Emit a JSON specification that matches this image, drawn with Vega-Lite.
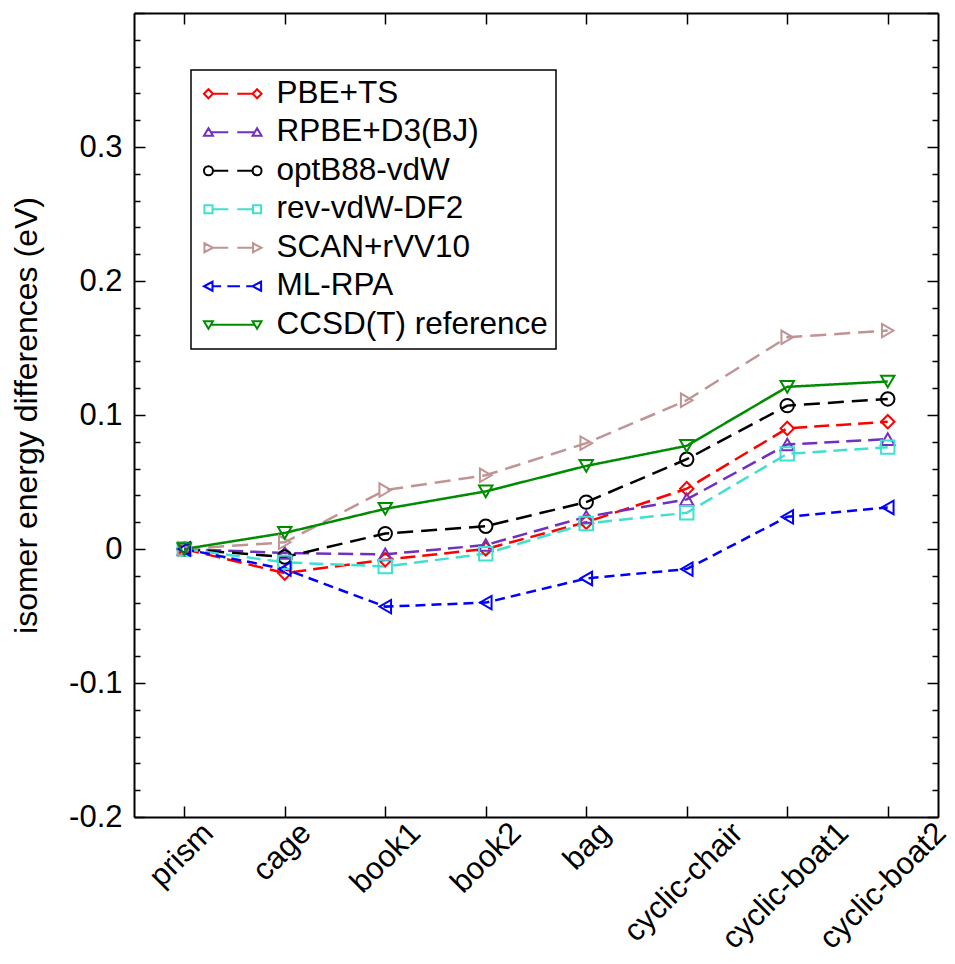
{
  "$schema": "https://vega.github.io/schema/vega-lite/v6.json",
  "width": 804,
  "height": 804,
  "autosize": {"type": "none"},
  "padding": {"left": 134, "top": 13, "right": 17, "bottom": 147},
  "background": "white",
  "config": {
    "view": {"stroke": null},
    "font": "Liberation Sans",
    "legend": {"strokeWidth": 1.5}
  },
  "datasets": {
    "d": [
      {"m": "PBE+TS", "isomer": "prism", "i": 0, "e": 0},
      {"m": "PBE+TS", "isomer": "cage", "i": 1, "e": -0.018},
      {"m": "PBE+TS", "isomer": "book1", "i": 2, "e": -0.008},
      {"m": "PBE+TS", "isomer": "book2", "i": 3, "e": 0.0},
      {"m": "PBE+TS", "isomer": "bag", "i": 4, "e": 0.020},
      {"m": "PBE+TS", "isomer": "cyclic-chair", "i": 5, "e": 0.045},
      {"m": "PBE+TS", "isomer": "cyclic-boat1", "i": 6, "e": 0.090},
      {"m": "PBE+TS", "isomer": "cyclic-boat2", "i": 7, "e": 0.095},
      {"m": "RPBE+D3(BJ)", "isomer": "prism", "i": 0, "e": 0},
      {"m": "RPBE+D3(BJ)", "isomer": "cage", "i": 1, "e": -0.003},
      {"m": "RPBE+D3(BJ)", "isomer": "book1", "i": 2, "e": -0.004},
      {"m": "RPBE+D3(BJ)", "isomer": "book2", "i": 3, "e": 0.003},
      {"m": "RPBE+D3(BJ)", "isomer": "bag", "i": 4, "e": 0.024},
      {"m": "RPBE+D3(BJ)", "isomer": "cyclic-chair", "i": 5, "e": 0.037},
      {"m": "RPBE+D3(BJ)", "isomer": "cyclic-boat1", "i": 6, "e": 0.078},
      {"m": "RPBE+D3(BJ)", "isomer": "cyclic-boat2", "i": 7, "e": 0.082},
      {"m": "optB88-vdW", "isomer": "prism", "i": 0, "e": 0},
      {"m": "optB88-vdW", "isomer": "cage", "i": 1, "e": -0.006},
      {"m": "optB88-vdW", "isomer": "book1", "i": 2, "e": 0.0115},
      {"m": "optB88-vdW", "isomer": "book2", "i": 3, "e": 0.017},
      {"m": "optB88-vdW", "isomer": "bag", "i": 4, "e": 0.035},
      {"m": "optB88-vdW", "isomer": "cyclic-chair", "i": 5, "e": 0.067},
      {"m": "optB88-vdW", "isomer": "cyclic-boat1", "i": 6, "e": 0.107},
      {"m": "optB88-vdW", "isomer": "cyclic-boat2", "i": 7, "e": 0.112},
      {"m": "rev-vdW-DF2", "isomer": "prism", "i": 0, "e": 0},
      {"m": "rev-vdW-DF2", "isomer": "cage", "i": 1, "e": -0.010},
      {"m": "rev-vdW-DF2", "isomer": "book1", "i": 2, "e": -0.013},
      {"m": "rev-vdW-DF2", "isomer": "book2", "i": 3, "e": -0.0035},
      {"m": "rev-vdW-DF2", "isomer": "bag", "i": 4, "e": 0.019},
      {"m": "rev-vdW-DF2", "isomer": "cyclic-chair", "i": 5, "e": 0.027},
      {"m": "rev-vdW-DF2", "isomer": "cyclic-boat1", "i": 6, "e": 0.071},
      {"m": "rev-vdW-DF2", "isomer": "cyclic-boat2", "i": 7, "e": 0.076},
      {"m": "SCAN+rVV10", "isomer": "prism", "i": 0, "e": 0},
      {"m": "SCAN+rVV10", "isomer": "cage", "i": 1, "e": 0.005},
      {"m": "SCAN+rVV10", "isomer": "book1", "i": 2, "e": 0.044},
      {"m": "SCAN+rVV10", "isomer": "book2", "i": 3, "e": 0.055},
      {"m": "SCAN+rVV10", "isomer": "bag", "i": 4, "e": 0.079},
      {"m": "SCAN+rVV10", "isomer": "cyclic-chair", "i": 5, "e": 0.111},
      {"m": "SCAN+rVV10", "isomer": "cyclic-boat1", "i": 6, "e": 0.158},
      {"m": "SCAN+rVV10", "isomer": "cyclic-boat2", "i": 7, "e": 0.163},
      {"m": "ML-RPA", "isomer": "prism", "i": 0, "e": 0},
      {"m": "ML-RPA", "isomer": "cage", "i": 1, "e": -0.015},
      {"m": "ML-RPA", "isomer": "book1", "i": 2, "e": -0.043},
      {"m": "ML-RPA", "isomer": "book2", "i": 3, "e": -0.040},
      {"m": "ML-RPA", "isomer": "bag", "i": 4, "e": -0.022},
      {"m": "ML-RPA", "isomer": "cyclic-chair", "i": 5, "e": -0.015},
      {"m": "ML-RPA", "isomer": "cyclic-boat1", "i": 6, "e": 0.024},
      {"m": "ML-RPA", "isomer": "cyclic-boat2", "i": 7, "e": 0.031},
      {"m": "CCSD(T) reference", "isomer": "prism", "i": 0, "e": 0},
      {"m": "CCSD(T) reference", "isomer": "cage", "i": 1, "e": 0.012},
      {"m": "CCSD(T) reference", "isomer": "book1", "i": 2, "e": 0.030},
      {"m": "CCSD(T) reference", "isomer": "book2", "i": 3, "e": 0.043},
      {"m": "CCSD(T) reference", "isomer": "bag", "i": 4, "e": 0.062},
      {"m": "CCSD(T) reference", "isomer": "cyclic-chair", "i": 5, "e": 0.077},
      {"m": "CCSD(T) reference", "isomer": "cyclic-boat1", "i": 6, "e": 0.121},
      {"m": "CCSD(T) reference", "isomer": "cyclic-boat2", "i": 7, "e": 0.125}
    ]
  },
  "data": {"name": "d"},
  "layer": [
    {
      "mark": {"type": "line", "strokeWidth": 2.5, "strokeCap": "butt"},
      "encoding": {
        "x": {
          "field": "isomer", "type": "nominal",
          "scale": {"type": "point", "padding": 0.5, "domain": ["prism", "cage", "book1", "book2", "bag", "cyclic-chair", "cyclic-boat1", "cyclic-boat2"]},
          "axis": {
            "orient": "bottom", "title": null, "grid": false,
            "domainColor": "black", "domainWidth": 2,
            "tickColor": "black", "tickWidth": 1.5, "tickSize": -11,
            "labelAngle": -45, "labelAlign": "right", "labelBaseline": "middle",
            "labelFont": "Liberation Sans", "labelFontSize": 31, "labelColor": "black",
            "labelOffset": {"condition": [
              {"test": "datum.value === 'prism'", "value": 24},
              {"test": "datum.value === 'cage'", "value": 21},
              {"test": "datum.value === 'book1'", "value": 30},
              {"test": "datum.value === 'book2'", "value": 30},
              {"test": "datum.value === 'bag'", "value": 19},
              {"test": "datum.value === 'cyclic-chair'", "value": 51},
              {"test": "datum.value === 'cyclic-boat1'", "value": 56}
            ], "value": 53},
            "labelPadding": 22, "labelOverlap": false, "labelFlush": false, "labelLimit": 0
          }
        },
        "y": {
          "field": "e", "type": "quantitative",
          "scale": {"domain": [-0.2, 0.4], "nice": false, "zero": false},
          "axis": {
            "orient": "left", "grid": false,
            "values": [-0.2, -0.18, -0.16, -0.14, -0.12, -0.1, -0.08, -0.06, -0.04, -0.02, 0, 0.02, 0.04, 0.06, 0.08, 0.1, 0.12, 0.14, 0.16, 0.18, 0.2, 0.22, 0.24, 0.26, 0.28, 0.3, 0.32, 0.34, 0.36, 0.38, 0.4],
            "labelExpr": "(abs(datum.value*10 - round(datum.value*10)) < 0.001 && datum.value < 0.35) ? (abs(datum.value) < 0.001 ? '0' : ((datum.value < 0 ? '-' : '') + format(abs(datum.value), '.1f'))) : ''",
            "tickSize": {"condition": {"test": "abs(datum.value*10 - round(datum.value*10)) < 0.001", "value": -11}, "value": -6},
            "domainColor": "black", "domainWidth": 2,
            "tickColor": "black", "tickWidth": 1.5,
            "labelFont": "Liberation Sans", "labelFontSize": 31, "labelColor": "black",
            "labelPadding": 23, "labelOverlap": false, "labelFlush": false,
            "title": "isomer energy differences (eV)",
            "titleFont": "Liberation Sans", "titleFontSize": 32, "titleFontWeight": "normal", "titleColor": "black",
            "titleX": -108, "titleBaseline": "middle"
          }
        },
        "color": {"field": "m", "type": "nominal", "legend": null,
          "scale": {"domain": ["PBE+TS", "RPBE+D3(BJ)", "optB88-vdW", "rev-vdW-DF2", "SCAN+rVV10", "ML-RPA", "CCSD(T) reference"],
                    "range": ["#ff0000", "#7030c0", "#000000", "#40e0d0", "#c09494", "#0000ff", "#008c00"]}},
        "strokeDash": {"field": "m", "type": "nominal", "legend": null,
          "scale": {"domain": ["PBE+TS", "RPBE+D3(BJ)", "optB88-vdW", "rev-vdW-DF2", "SCAN+rVV10", "ML-RPA", "CCSD(T) reference"],
                    "range": [[15, 7], [15, 7], [16, 8], [14, 7], [16, 8], [10, 6], [1, 0]]}},
        "order": {"field": "i", "type": "quantitative"}
      }
    },
    {
      "mark": {"type": "point", "filled": false, "strokeWidth": 2, "opacity": 1},
      "encoding": {
        "x": {
          "field": "isomer", "type": "nominal",
          "scale": {"type": "point", "padding": 0.5, "domain": ["prism", "cage", "book1", "book2", "bag", "cyclic-chair", "cyclic-boat1", "cyclic-boat2"]},
          "axis": {
            "orient": "top", "title": null, "grid": false, "labels": false,
            "domainColor": "black", "domainWidth": 2,
            "tickColor": "black", "tickWidth": 1.5, "tickSize": -11
          }
        },
        "y": {
          "field": "e", "type": "quantitative",
          "scale": {"domain": [-0.2, 0.4], "nice": false, "zero": false},
          "axis": {
            "orient": "right", "grid": false, "labels": false, "title": null,
            "values": [-0.2, -0.18, -0.16, -0.14, -0.12, -0.1, -0.08, -0.06, -0.04, -0.02, 0, 0.02, 0.04, 0.06, 0.08, 0.1, 0.12, 0.14, 0.16, 0.18, 0.2, 0.22, 0.24, 0.26, 0.28, 0.3, 0.32, 0.34, 0.36, 0.38, 0.4],
            "tickSize": {"condition": {"test": "abs(datum.value*10 - round(datum.value*10)) < 0.001", "value": -11}, "value": -6},
            "domainColor": "black", "domainWidth": 2,
            "tickColor": "black", "tickWidth": 1.5
          }
        },
        "color": {"field": "m", "type": "nominal", "legend": null,
          "scale": {"domain": ["PBE+TS", "RPBE+D3(BJ)", "optB88-vdW", "rev-vdW-DF2", "SCAN+rVV10", "ML-RPA", "CCSD(T) reference"],
                    "range": ["#ff0000", "#7030c0", "#000000", "#40e0d0", "#c09494", "#0000ff", "#008c00"]}},
        "shape": {"field": "m", "type": "nominal", "legend": null,
          "scale": {"domain": ["PBE+TS", "RPBE+D3(BJ)", "optB88-vdW", "rev-vdW-DF2", "SCAN+rVV10", "ML-RPA", "CCSD(T) reference"],
                    "range": ["diamond", "triangle-up", "circle", "square", "triangle-right", "triangle-left", "triangle-down"]}},
        "size": {"field": "m", "type": "nominal", "legend": null,
          "scale": {"domain": ["PBE+TS", "RPBE+D3(BJ)", "optB88-vdW", "rev-vdW-DF2", "SCAN+rVV10", "ML-RPA", "CCSD(T) reference"],
                    "range": [180, 180, 170, 120, 180, 180, 180]}}
      }
    },
    {
      "mark": {"type": "point", "filled": false, "opacity": 0},
      "encoding": {
        "x": {"field": "isomer", "type": "nominal", "axis": null,
          "scale": {"type": "point", "padding": 0.5, "domain": ["prism", "cage", "book1", "book2", "bag", "cyclic-chair", "cyclic-boat1", "cyclic-boat2"]}},
        "y": {"field": "e", "type": "quantitative", "axis": null,
          "scale": {"domain": [-0.2, 0.4], "nice": false, "zero": false}},
        "color": {"field": "m", "type": "nominal",
          "scale": {"domain": ["PBE+TS", "RPBE+D3(BJ)", "optB88-vdW", "rev-vdW-DF2", "SCAN+rVV10", "ML-RPA", "CCSD(T) reference"],
                    "range": ["#ff0000", "#7030c0", "#000000", "#40e0d0", "#c09494", "#0000ff", "#008c00"]},
          "legend": {"orient": "none", "legendX": 57, "legendY": 57, "title": null,
            "symbolSize": 81, "symbolStrokeWidth": 2, "symbolOpacity": 1, "symbolOffset": 18,
            "labelFont": "Liberation Sans", "labelFontSize": 31.5, "labelColor": "black", "labelOffset": 28, "labelLimit": 0,
            "rowPadding": 5.5, "padding": 8, "strokeColor": "black", "fillColor": "white"}},
        "shape": {"field": "m", "type": "nominal",
          "scale": {"domain": ["PBE+TS", "RPBE+D3(BJ)", "optB88-vdW", "rev-vdW-DF2", "SCAN+rVV10", "ML-RPA", "CCSD(T) reference"],
                    "range": [
                      "M-6.4,0L-5.4,-1L-4.4,0L-5.4,1Z M-4.4,0L-1,0 M1,0L4.4,0 M4.4,0L5.4,-1L6.4,0L5.4,1Z",
                      "M-6.4,0.8L-4.4,0.8L-5.4,-0.9Z M-4.9,0L-1,0 M1,0L4.9,0 M4.4,0.8L6.4,0.8L5.4,-0.9Z",
                      "M-6.4,0A1,1 0 1,0 -4.4,0A1,1 0 1,0 -6.4,0Z M-4.4,0L-1,0 M1,0L4.4,0 M4.4,0A1,1 0 1,0 6.4,0A1,1 0 1,0 4.4,0Z",
                      "M-6.3,-0.9L-4.5,-0.9L-4.5,0.9L-6.3,0.9Z M-4.5,0L-1,0 M1,0L4.5,0 M4.5,-0.9L6.3,-0.9L6.3,0.9L4.5,0.9Z",
                      "M-6.3,-1L-4.4,0L-6.3,1Z M-4.4,0L-1,0 M1,0L4.5,0 M4.5,-1L6.4,0L4.5,1Z",
                      "M-4.5,-1L-6.4,0L-4.5,1Z M-4.5,0L-2.6,0 M-1.2,0L1.6,0 M3,0L4.4,0 M6.3,-1L4.4,0L6.3,1Z",
                      "M-6.4,-0.8L-4.4,-0.8L-5.4,0.9Z M-4.9,0L4.9,0 M4.4,-0.8L6.4,-0.8L5.4,0.9Z"
                    ]},
          "legend": {"orient": "none", "legendX": 57, "legendY": 57, "title": null,
            "symbolSize": 81, "symbolStrokeWidth": 2, "symbolOpacity": 1, "symbolOffset": 18,
            "labelFont": "Liberation Sans", "labelFontSize": 31.5, "labelColor": "black", "labelOffset": 28, "labelLimit": 0,
            "rowPadding": 5.5, "padding": 8, "strokeColor": "black", "fillColor": "white"}}
      }
    }
  ],
  "resolve": {
    "scale": {"shape": "independent", "color": "independent"},
    "axis": {"x": "independent", "y": "independent"}
  }
}
